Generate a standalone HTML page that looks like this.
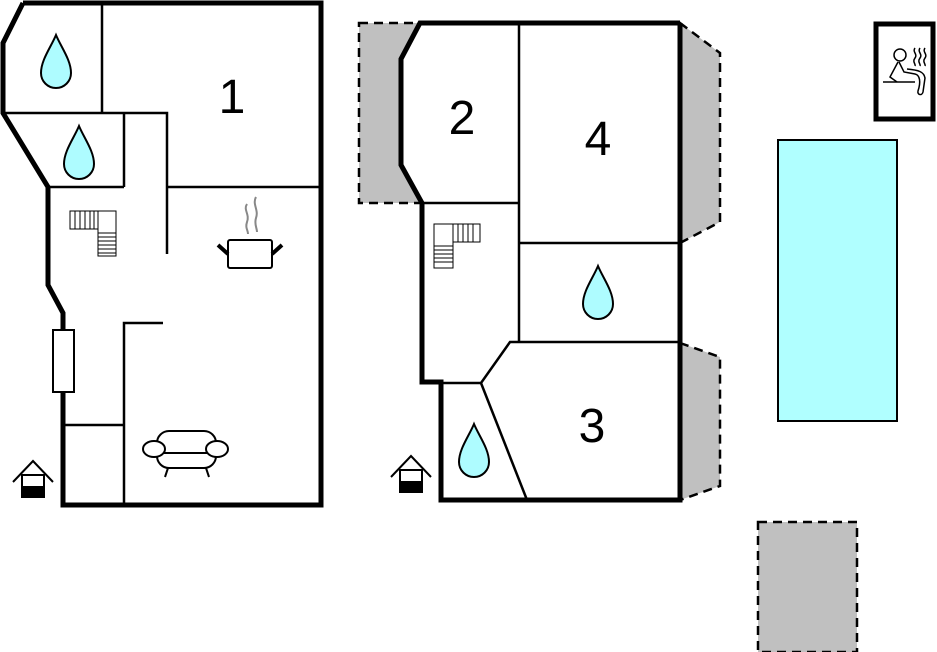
<!DOCTYPE html>
<html><head><meta charset="utf-8"><style>html,body{margin:0;padding:0;background:#fff}svg{display:block}</style></head>
<body>
<svg width="937" height="652" viewBox="0 0 937 652" xmlns="http://www.w3.org/2000/svg" font-family="Liberation Sans, sans-serif">
<defs>
<path id="drop" d="M0,0 C5,12 15,25 15,38 A15,15 0 0 1 -15,38 C-15,25 -5,12 0,0 Z" fill="#aefcff" stroke="#000" stroke-width="2"/>
<g id="house">
<polyline points="0,21 20,0 40,21" fill="none" stroke="#000" stroke-width="2"/>
<rect x="9" y="14" width="22" height="22" fill="#fff" stroke="#000" stroke-width="2"/>
<rect x="9" y="25" width="22" height="11" fill="#000"/>
</g>
</defs>

<!-- LEFT PLAN -->
<g stroke="#000" fill="none">
<polyline points="23,3 321,3 321,505 63,505 63,392" stroke-width="5" stroke-linejoin="miter"/>
<polyline points="23,3 3,43 3,113 48,187 48,285 63,313 63,330" stroke-width="5"/>
<rect x="53" y="330" width="21" height="62" stroke-width="2" fill="#fff"/>
<g stroke-width="2.5">
<line x1="102" y1="3" x2="102" y2="113"/>
<polyline points="3,113 167,113 167,254"/>
<line x1="124" y1="113" x2="124" y2="187"/>
<line x1="48" y1="187" x2="124" y2="187"/>
<line x1="167" y1="187" x2="321" y2="187"/>
<polyline points="163,323 124,323 124,505"/>
<line x1="63" y1="425" x2="124" y2="425"/>
</g>
</g>
<use href="#drop" x="56" y="35"/>
<use href="#drop" x="79" y="126"/>
<text x="232" y="113" font-size="48" text-anchor="middle">1</text>
<g stroke="#000" stroke-width="1" fill="#fff">
<rect x="70" y="211" width="28" height="18"/>
<rect x="98" y="211" width="18" height="45"/>
<path d="M75,211V229M80,211V229M85,211V229M90,211V229M94,211V229M98,233H116M98,237H116M98,241H116M98,245H116M98,249H116M98,253H116"/>
</g>
<g stroke="#000" fill="none">
<rect x="228" y="240" width="44" height="28" rx="2" stroke-width="2"/>
<line x1="218" y1="245" x2="228" y2="254" stroke-width="4"/>
<line x1="272" y1="254" x2="282" y2="245" stroke-width="4"/>
<path d="M247,204 C243,210 250,214 247,222 C245,228 248,230 248,234" stroke="#888" stroke-width="2"/>
<path d="M256,197 C252,204 259,210 256,218 C254,224 257,228 257,232" stroke="#888" stroke-width="2"/>
</g>
<g stroke="#000" stroke-width="2" fill="#fff">
<rect x="157" y="431" width="59" height="37" rx="12"/>
<line x1="160" y1="453" x2="214" y2="453"/>
<ellipse cx="154" cy="449" rx="11" ry="8"/>
<ellipse cx="217" cy="449" rx="11" ry="8"/>
<line x1="168" y1="468" x2="165" y2="477"/>
<line x1="206" y1="468" x2="209" y2="477"/>
</g>
<use href="#house" x="13" y="461"/>

<!-- MIDDLE PLAN -->
<g stroke="#000" stroke-width="2.5" stroke-dasharray="9,6" fill="#c0c0c0">
<rect x="359" y="23" width="62" height="180"/>
<polygon points="680,23 720,53 720,222 680,243"/>
<polygon points="680,343 720,357 720,486 680,500"/>
</g>
<polygon points="420,23 680,23 680,500 441,500 441,382 422,382 422,203 401,165 401,59" fill="#fff"/>
<g stroke="#000" fill="none">
<polyline points="680,23 680,500 441,500 441,382 422,382 422,203 401,165 401,59 420,23 680,23" stroke-width="5"/>
<g stroke-width="2.5">
<line x1="519" y1="23" x2="519" y2="343"/>
<line x1="422" y1="203" x2="519" y2="203"/>
<line x1="519" y1="243" x2="680" y2="243"/>
<polyline points="680,342 510,342 481,383 441,383"/>
<line x1="481" y1="383" x2="527" y2="500"/>
</g>
</g>
<text x="462" y="134" font-size="48" text-anchor="middle">2</text>
<text x="598" y="155" font-size="48" text-anchor="middle">4</text>
<text x="592" y="442" font-size="48" text-anchor="middle">3</text>
<use href="#drop" x="598" y="266"/>
<use href="#drop" x="474" y="424"/>
<g stroke="#000" stroke-width="1" fill="#fff">
<rect x="453" y="224" width="27" height="18"/>
<rect x="434" y="224" width="19" height="44"/>
<path d="M458,224V242M463,224V242M468,224V242M473,224V242M434,246H453M434,250H453M434,254H453M434,258H453M434,262H453"/>
</g>
<use href="#house" x="391" y="456"/>

<!-- RIGHT -->
<rect x="778" y="140" width="119" height="281" fill="#b0ffff" stroke="#000" stroke-width="2"/>
<rect x="758" y="522" width="99" height="130" fill="#c0c0c0" stroke="#000" stroke-width="2.5" stroke-dasharray="9,6"/>
<rect x="876" y="24" width="57" height="95" fill="#fff" stroke="#000" stroke-width="5"/>
<g stroke="#000" stroke-width="1.5" fill="none">
<circle cx="900" cy="55" r="6"/>
<path d="M898,62 L890,77 L897,82 M899,62 L904,72 L915,74 C920,75 921,82 918,91 C917,95 922,96 923,92 L925,78 C924,72 919,70 907,69"/>
<line x1="883" y1="82" x2="915" y2="82"/>
<path d="M915,48 c-3,4 3,6 0,10 c-3,4 1,6 0,8 M920,48 c-3,4 3,6 0,10 c-3,4 1,6 0,8 M925,48 c-3,4 3,6 0,10 c-3,4 1,6 0,8"/>
</g>
</svg>
</body></html>
